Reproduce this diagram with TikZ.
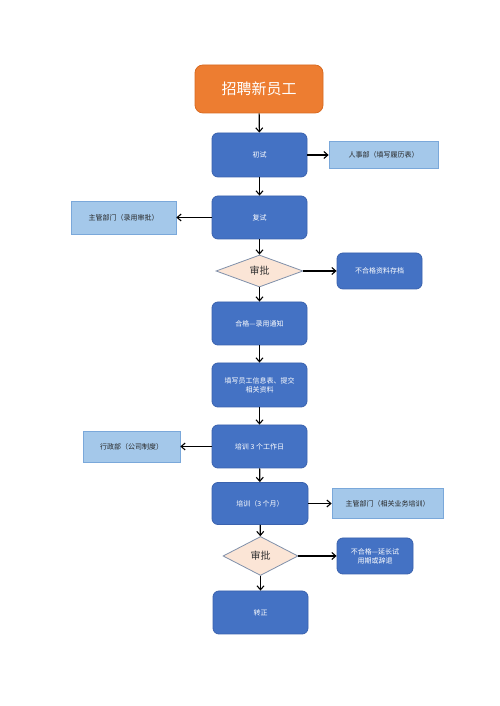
\documentclass[tikz,border=0pt]{standalone}
\usepackage{fontspec}
\setmainfont{Noto Sans CJK SC}
\usetikzlibrary{shapes.geometric,arrows.meta}
\definecolor{mainblue}{HTML}{4472C4}
\definecolor{mainborder}{HTML}{3A62AE}
\definecolor{lightblue}{HTML}{A4C8EA}
\definecolor{lightborder}{HTML}{7AA8DA}
\definecolor{peach}{HTML}{FBE5D6}
\definecolor{peachborder}{HTML}{8090AA}
\definecolor{orangefill}{HTML}{ED7D31}
\definecolor{orangeborder}{HTML}{D86A20}
\tikzset{
  mainbox/.style={draw=mainborder, fill=mainblue, rounded corners=6pt, line width=0.8pt,
    text=white, font=\fontsize{7}{9}\selectfont, align=center, inner sep=2pt},
  sidebox/.style={draw=lightborder, fill=lightblue, line width=0.7pt,
    text=black!85, font=\fontsize{7}{9}\selectfont, align=center, inner sep=2pt},
  decision/.style={diamond, draw=peachborder, fill=peach, line width=0.8pt, inner sep=0pt,
    text=black!80, font=\fontsize{10}{12}\selectfont},
  titlebox/.style={draw=orangeborder, fill=orangefill, rounded corners=8pt, line width=0.8pt,
    text=white, font=\fontsize{15}{18}\selectfont},
  flow/.style={-{Straight Barb[length=4pt,width=7pt]}, line width=1.1pt, black}
}
\begin{document}
\begin{tikzpicture}[x=1pt,y=1pt]
\useasboundingbox[fill=white] (0,0) rectangle (500,706);
\node[titlebox, minimum width=128pt, minimum height=48pt] (title) at (259,617) {招聘新员工};
\node[mainbox, minimum width=95pt, minimum height=44pt] (chushi) at (259.5,551) {初试};
\node[sidebox, minimum width=109pt, minimum height=27pt] (renshi) at (383.5,551) {人事部（填写履历表）};
\node[mainbox, minimum width=95pt, minimum height=43pt] (fushi) at (259.5,488.5) {复试};
\node[sidebox, minimum width=105pt, minimum height=33pt] (zhuguan1) at (123.5,488.5) {主管部门（录用审批）};
\node[decision, minimum width=87pt, minimum height=32pt] (shenpi1) at (259.5,435) {审批};
\node[mainbox, minimum width=85pt, minimum height=36pt] (buhege1) at (379.5,435) {不合格资料存档};
\node[mainbox, minimum width=95pt, minimum height=43pt] (hege) at (259.5,382.5) {合格—录用通知};
\node[mainbox, minimum width=95pt, minimum height=44pt] (tianxie) at (259.5,321) {填写员工信息表、提交\\相关资料};
\node[mainbox, minimum width=95pt, minimum height=43pt] (peixun1) at (259.5,259.5) {培训 3 个工作日};
\node[sidebox, minimum width=97pt, minimum height=31pt] (xingzheng) at (131.5,259.5) {行政部（公司制度）};
\node[mainbox, minimum width=96pt, minimum height=42pt] (peixun2) at (260,202.5) {培训（3 个月）};
\node[sidebox, minimum width=111pt, minimum height=30pt] (zhuguan2) at (387.5,202.5) {主管部门（相关业务培训）};
\node[decision, minimum width=75pt, minimum height=39pt] (shenpi2) at (260.5,150) {审批};
\node[mainbox, minimum width=76pt, minimum height=36pt] (buhege2) at (375,150) {不合格—延长试\\用期或辞退};
\node[mainbox, minimum width=95pt, minimum height=43pt] (zhuanzheng) at (260.5,93.5) {转正};
\draw[flow] (title) -- (chushi);
\draw[flow] (chushi) -- (renshi);
\draw[flow] (chushi) -- (fushi);
\draw[flow] (fushi) -- (zhuguan1);
\draw[flow] (fushi) -- (shenpi1);
\draw[flow] (shenpi1) -- (buhege1);
\draw[flow] (shenpi1) -- (hege);
\draw[flow] (hege) -- (tianxie);
\draw[flow] (tianxie) -- (peixun1);
\draw[flow] (peixun1) -- (xingzheng);
\draw[flow] (peixun1) -- (peixun2);
\draw[flow] (peixun2) -- (zhuguan2);
\draw[flow] (peixun2) -- (shenpi2);
\draw[flow] (shenpi2) -- (buhege2);
\draw[flow] (shenpi2) -- (zhuanzheng);
\end{tikzpicture}
\end{document}
